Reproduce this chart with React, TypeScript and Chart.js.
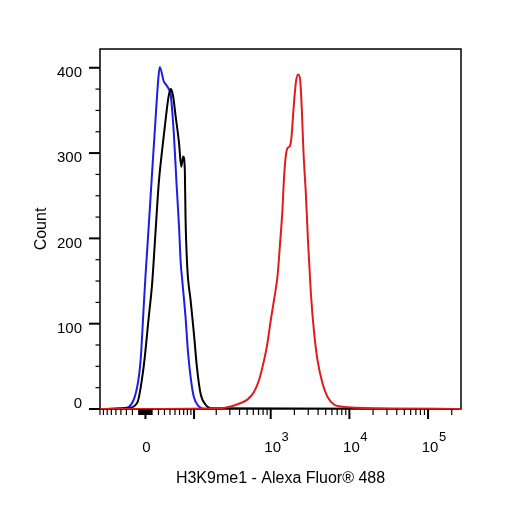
import { useEffect, useRef } from "react"
import { Chart, LinearScale, registerables } from "chart.js"

// Histogram of H3K9me1 staining, x in fluorescence units (biexponential axis)
const blueX = [-90, -34.8, -17.9, -7.5, -2.6, 0, 5.0, 10.1, 15.2, 19.5, 22.1, 28.8, 31.8, 37.8, 41.0, 47.6, 53.2, 58.8, 62.8, 66.4, 74.8, 81.1, 89.0, 99.4, 116.9, 144.4, 262144]
const blueCounts = [0, 1, 11, 55, 120, 155, 215, 278, 338, 385, 401, 384, 381, 375, 370, 323, 265, 214, 171, 151, 108, 69, 38, 14, 3, 0, 0]

const blackX = [-90, -28.8, -12.6, -2.6, 5.0, 10.1, 15.2, 20.5, 26.1, 31.8, 35.9, 38.5, 41.0, 43.6, 46.3, 51.4, 58.8, 64.0, 68.9, 73.0, 74.8, 79.4, 89.0, 99.4, 109.5, 123.4, 144.4, 168.5, 262144]
const blackCounts = [0, 1, 7, 50, 108, 147, 206, 265, 304, 338, 360, 370, 375, 373, 366, 343, 312, 284, 296, 280, 225, 167, 128, 89, 50, 18, 5, 1, 0]

const redX = [-90, 228, 308, 414, 504, 612, 710, 822, 908, 1001, 1102, 1218, 1315, 1411, 1479, 1554, 1634, 1748, 1838, 1948, 2084, 2230, 2365, 2486, 2613, 2795, 2990, 3238, 3567, 3940, 4562, 5284, 6410, 7803, 9498, 18816, 262144]
const redCounts = [0, 1, 3, 7, 11, 20, 34, 57, 77, 104, 128, 155, 194, 234, 272, 296, 306, 308, 319, 351, 382, 392, 386, 351, 300, 253, 194, 136, 89, 57, 30, 14, 5, 3, 2, 1, 0]

const xMin = -90
const xMax = 262144
const yMax = 422

const xMajorTicks = [0, 100, 1000, 10000, 100000]
const xLabelledTicks = [0, 1000, 10000, 100000]
const yTickLabels = [0, 100, 200, 300, 400]
const yMinorStep = 25

const FONT = "'Liberation Sans', Arial, sans-serif"

// biex (arcsinh) transform, width of the linear region around zero
const BIEX_W = 51.2
const biex = (v: number) => Math.asinh(v / BIEX_W) / Math.LN10
const biexInv = (t: number) => BIEX_W * Math.sinh(t * Math.LN10)

class BiexScale extends LinearScale {
  static id = "biex"
  _tMin = 0
  _tRange = 1

  configure() {
    super.configure()
    this._tMin = biex(this.min)
    this._tRange = biex(this.max) - this._tMin
  }

  getPixelForValue(value: number) {
    return this.getPixelForDecimal((biex(value) - this._tMin) / this._tRange)
  }

  getValueForPixel(pixel: number) {
    return biexInv(this._tMin + this.getDecimalForPixel(pixel) * this._tRange)
  }
}

Chart.register(...registerables, BiexScale)

function xTickValues(min: number, max: number) {
  const vals: number[] = [...xMajorTicks]
  for (let m = 1; m <= 9; m++) {
    vals.push(m, -m, m * 10, -m * 10)
  }
  for (const s of [100, 1000, 10000, 100000]) {
    for (let m = 2; m <= 9; m++) vals.push(m * s)
  }
  return vals.filter((v) => v >= min && v <= max).sort((a, b) => a - b)
}

const flowAxes = {
  id: "flowAxes",
  beforeDatasetsDraw(chart: Chart) {
    const { ctx, chartArea: a } = chart
    const xs = chart.scales.x
    const ys = chart.scales.y
    ctx.save()
    ctx.strokeStyle = "#000"
    ctx.fillStyle = "#000"

    // frame
    ctx.lineWidth = 1.5
    ctx.strokeRect(a.left, a.top, a.right - a.left, a.bottom - a.top)

    // y ticks
    for (let v = 0; v <= yTickLabels[yTickLabels.length - 1]; v += yMinorStep) {
      const py = ys.getPixelForValue(v)
      const major = yTickLabels.includes(v)
      ctx.lineWidth = major ? 2 : 1.2
      ctx.beginPath()
      ctx.moveTo(a.left - (major ? 11 : 4.5), py)
      ctx.lineTo(a.left, py)
      ctx.stroke()
    }
    ctx.font = `15px ${FONT}`
    ctx.textAlign = "right"
    ctx.textBaseline = "middle"
    for (const v of yTickLabels) {
      const py = ys.getPixelForValue(v)
      ctx.fillText(String(v), a.left - 18, v === 0 ? py - 5 : py + 5)
    }

    // x ticks
    for (const t of xs.ticks) {
      const px = xs.getPixelForValue(t.value)
      ctx.lineWidth = t.major ? 2 : 1.2
      ctx.beginPath()
      ctx.moveTo(px, a.bottom)
      ctx.lineTo(px, a.bottom + (t.major ? 10 : 6))
      ctx.stroke()
    }
    ctx.textBaseline = "middle"
    for (const v of xLabelledTicks) {
      const px = xs.getPixelForValue(v)
      ctx.font = `15px ${FONT}`
      if (v === 0) {
        ctx.textAlign = "center"
        ctx.fillText("0", px + 1, 448)
        continue
      }
      const base = "10"
      const w = ctx.measureText(base).width
      ctx.textAlign = "center"
      ctx.fillText(base, px + 2, 448)
      ctx.font = `13px ${FONT}`
      ctx.textAlign = "left"
      ctx.fillText(String(Math.round(Math.log10(v))), px + 2 + w / 2 + 0.5, 437.5)
    }
    ctx.restore()
  },
}

const toPoints = (xs: number[], ys: number[]) => xs.map((x, i) => ({ x, y: ys[i] }))

export default function App() {
  const chartRef = useRef<HTMLCanvasElement>(null)
  const chartInstance = useRef<Chart | null>(null)

  useEffect(() => {
    if (!chartRef.current) return
    if (chartInstance.current) chartInstance.current.destroy()

    const line = {
      showLine: true,
      pointRadius: 0,
      borderWidth: 2,
      cubicInterpolationMode: "monotone" as const,
    }

    chartInstance.current = new Chart(chartRef.current, {
      type: "scatter",
      data: {
        // first dataset is drawn on top
        datasets: [
          { ...line, label: "H3K9me1", data: toPoints(redX, redCounts), borderColor: "#e01b1b" },
          { ...line, label: "Control", data: toPoints(blackX, blackCounts), borderColor: "#000000" },
          { ...line, label: "Isotype", data: toPoints(blueX, blueCounts), borderColor: "#1e1ee0" },
        ],
      },
      options: {
        responsive: true,
        maintainAspectRatio: false,
        animation: false,
        events: [],
        layout: { padding: { top: 49, right: 45, left: 0, bottom: 0 } },
        plugins: {
          legend: { display: false },
          tooltip: { enabled: false },
        },
        scales: {
          x: {
            type: "biex" as any,
            min: xMin,
            max: xMax,
            grid: { display: false },
            border: { display: false },
            ticks: { display: false },
            afterBuildTicks: (scale: any) => {
              scale.ticks = xTickValues(scale.min, scale.max).map((v) => ({
                value: v,
                major: xMajorTicks.includes(v),
              }))
            },
            afterFit: (scale: any) => {
              scale.height = 97
            },
            title: {
              display: true,
              text: "H3K9me1 - Alexa Fluor® 488",
              color: "#000",
              font: { family: FONT, size: 16 },
              padding: { top: 0, bottom: 18 },
            },
          },
          y: {
            min: 0,
            max: yMax,
            grid: { display: false },
            border: { display: false },
            ticks: { display: false },
            afterFit: (scale: any) => {
              scale.width = 100
            },
            title: {
              display: true,
              text: "Count",
              color: "#000",
              font: { family: FONT, size: 16 },
              padding: { top: 32, bottom: 0 },
            },
          },
        },
      },
      plugins: [flowAxes],
    })

    return () => {
      if (chartInstance.current) {
        chartInstance.current.destroy()
        chartInstance.current = null
      }
    }
  }, [])

  return (
    <div style={{ position: "fixed", left: 0, top: 0, width: 506, height: 506, background: "#fff" }}>
      <canvas ref={chartRef} />
    </div>
  )
}
